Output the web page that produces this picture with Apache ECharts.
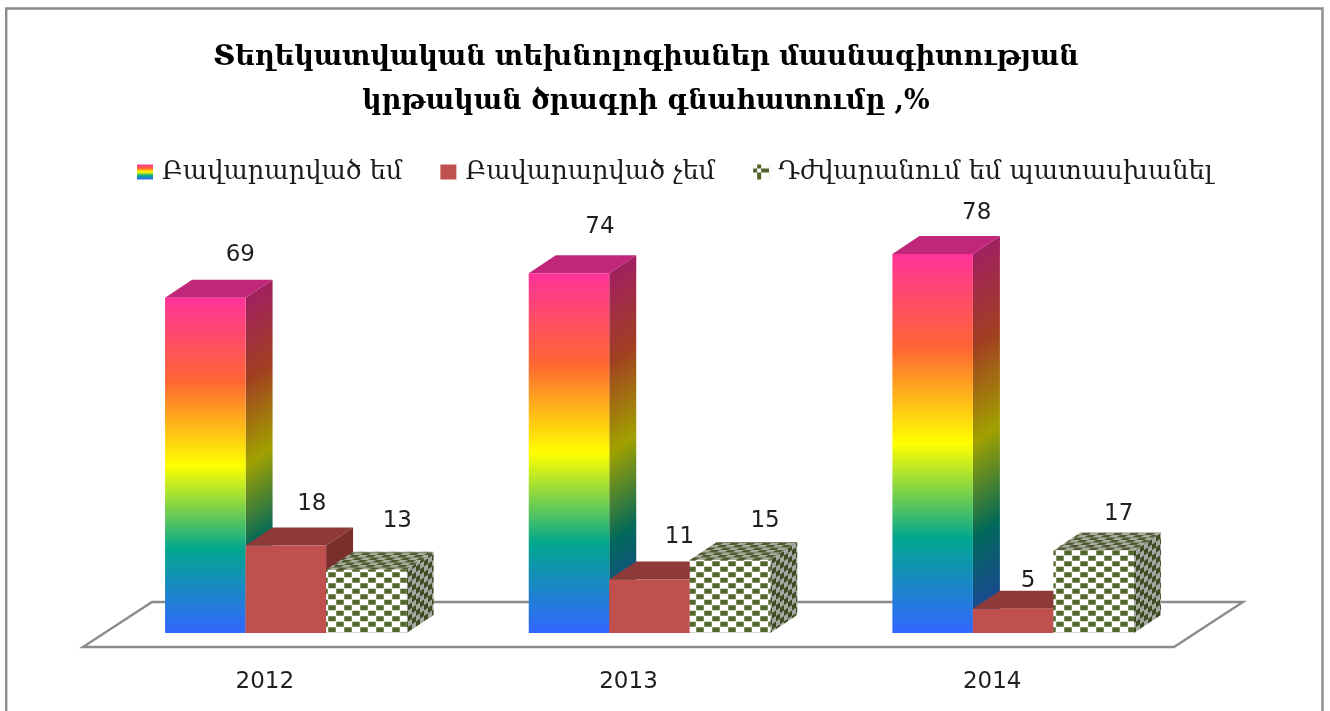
<!DOCTYPE html>
<html>
<head>
<meta charset="utf-8">
<title>chart</title>
<style>
  html, body { margin: 0; padding: 0; background: #fff; }
  #chart { width: 1330px; height: 711px; }
</style>
<script src="https://cdn.jsdelivr.net/npm/echarts@6/dist/echarts.min.js"></script>
</head>
<body>
<div id="chart"></div>
<script>
const years = ["2012", "2013", "2014"];
const satisfied = [69, 74, 78];
const notSatisfied = [18, 11, 5];
const hardToAnswer = [13, 15, 17];
const seriesNames = ["Բավարարված եմ", "Բավարարված չեմ", "Դժվարանում եմ պատասխանել"];
const titleText = "Տեղեկատվական տեխնոլոգիաներ մասնագիտության\nկրթական ծրագրի գնահատումը ,%";

// labels were placed by hand in the original: offset from the top middle of the front face
const satisfiedNudge = [[35, -43], [31, -46], [44, -41]];
const notSatisfiedNudge = [[26, -41], [30, -43], [15, -28]];
const hardToAnswerNudge = [[31, -49], [35, -39], [25, -36]];

const DEPTH_X = 27, DEPTH_Y = 18;
const SHIFT_X = 21;        // bars sit on the floor, right of the category middle
const BAR_RATIO = 0.2214;
const FONT_SERIF = "'DejaVu Serif', serif";
const FONT_SANS = "'DejaVu Sans', sans-serif";

const rainbow = [[0, 255, 51, 153], [0.25, 255, 102, 51], [0.5, 255, 255, 0], [0.75, 1, 167, 143], [1, 51, 102, 255]];
function stops(k) {
  return rainbow.map(s => ({
    offset: s[0],
    color: "rgb(" + Math.round(s[1] * k) + "," + Math.round(s[2] * k) + "," + Math.round(s[3] * k) + ")"
  }));
}
const frontRainbow = new echarts.graphic.LinearGradient(0, 0, 0, 1, stops(1));

// checker tile, sampled a few times per pixel so the edges stay soft
function tile(w, h, test, dark, light) {
  const c = document.createElement("canvas");
  c.width = w; c.height = h;
  const ctx = c.getContext("2d");
  const img = ctx.createImageData(w, h);
  const N = 4;
  for (let y = 0; y < h; y++) {
    for (let x = 0; x < w; x++) {
      let hits = 0;
      for (let a = 0; a < N; a++) {
        for (let b = 0; b < N; b++) {
          if (test(x + (a + 0.5) / N, y + (b + 0.5) / N)) hits++;
        }
      }
      const t = hits / (N * N), p = (y * w + x) * 4;
      for (let i = 0; i < 3; i++) img.data[p + i] = dark[i] * t + light[i] * (1 - t);
      img.data[p + 3] = 255;
    }
  }
  ctx.putImageData(img, 0, 0);
  return { image: c, repeat: "repeat" };
}
const odd = (a, b) => (Math.floor(a) + Math.floor(b)) % 2 !== 0;
const inner = (a, m) => { const f = a - Math.floor(a); return f > m && f < 1 - m; };
const checkFront = tile(16, 11, (x, y) => odd(x / 8, y / 5.5) && inner(x / 8, 0.03) && inner(y / 5.5, 0.05), [84, 104, 44], [255, 255, 255]);
const checkTop = tile(16, 10, (x, y) => odd((x + 1.6 * y) / 8, y / 2.5), [79, 90, 50], [168, 172, 155]);
const checkSide = tile(16, 11, (x, y) => odd(x / 4, (y + 0.6875 * x) / 5.5), [62, 76, 36], [165, 168, 160]);
const checkLegend = tile(12, 12, (x, y) => odd(x / 4, y / 4), [79, 98, 40], [255, 255, 255]);

const faces = [
  { front: frontRainbow, top: "#c0277a", side: null },
  { front: "#c0504d", top: "#8e3a38", side: "#7a2f2d" },
  { front: checkFront, top: checkTop, side: checkSide }
];

function barRender(seriesIdx, nudge) {
  return function (params, api) {
    const i = api.value(0), v = api.value(1);
    const base = api.coord([i, 0]);
    const tip = api.coord([i, v]);
    const w = api.size([1, 0])[0] * BAR_RATIO;
    const x0 = base[0] + SHIFT_X + (seriesIdx - 1.5) * w;
    const x1 = x0 + w, yT = tip[1], yB = base[1];
    const dx = DEPTH_X, dy = DEPTH_Y;
    const face = faces[seriesIdx];

    let sideFill = face.side;
    if (!sideFill) {
      // rainbow colour lines run along the depth direction on the side wall
      const h = yB - yT, len = Math.sqrt(dx * dx + dy * dy), k = h * dx / (len * len);
      sideFill = new echarts.graphic.LinearGradient(x1, yT, x1 + dy * k, yT + dx * k, stops(0.63), true);
    }
    return {
      type: "group",
      children: [
        { type: "polygon", shape: { points: [[x1, yT], [x1 + dx, yT - dy], [x1 + dx, yB - dy], [x1, yB]] }, style: { fill: sideFill } },
        { type: "polygon", shape: { points: [[x0, yT], [x0 + dx, yT - dy], [x1 + dx, yT - dy], [x1, yT]] }, style: { fill: face.top } },
        { type: "rect", shape: { x: x0, y: yT, width: w, height: yB - yT }, style: { fill: face.front } },
        {
          type: "text", z2: 100,
          style: {
            text: String(v),
            x: (x0 + x1) / 2 + nudge[i][0], y: yT + nudge[i][1],
            align: "center", verticalAlign: "middle",
            font: "23px " + FONT_SANS, fill: "#1f1f1f"
          }
        }
      ]
    };
  };
}

function floorRender(params, api) {
  const g = params.coordSys;
  const front = g.y + g.height + 14, back = g.y + g.height - 31, left = g.x, right = g.x + g.width;
  return {
    type: "polygon",
    shape: { points: [[left, front], [right, front], [right + 69, back], [left + 69, back]] },
    style: { fill: "#fff", stroke: "#8c8c8c", lineWidth: 2.4 }
  };
}

function barSeries(idx, values, nudge, legendColor) {
  return {
    name: seriesNames[idx],
    type: "custom",
    clip: false,
    z: 3 + idx,
    encode: { x: 0, y: 1 },
    itemStyle: { color: legendColor },
    renderItem: barRender(idx, nudge),
    data: values.map((v, i) => [i, v])
  };
}

const myChart = echarts.init(document.getElementById("chart"));
myChart.setOption({
  animation: false,
  backgroundColor: "#fff",
  graphic: [{
    type: "rect", silent: true, z: 0,
    shape: { x: 6.2, y: 8.5, width: 1316.3, height: 740 },
    style: { fill: "none", stroke: "#8c8c8c", lineWidth: 2.4 }
  }],
  title: {
    text: titleText,
    left: 641, top: 31, textAlign: "center",
    textStyle: { fontFamily: FONT_SERIF, fontWeight: "bold", fontSize: 27, lineHeight: 44, color: "#000" }
  },
  legend: {
    left: 132, top: 154,
    itemWidth: 16, itemHeight: 15, itemGap: 38,
    icon: "rect",
    textStyle: { fontFamily: FONT_SERIF, fontSize: 25.7, color: "#1a1a1a", padding: [0, 0, 0, 4] },
    data: [
      { name: seriesNames[0], itemStyle: { color: frontRainbow } },
      { name: seriesNames[1], itemStyle: { color: "#c0504d" } },
      { name: seriesNames[2], itemStyle: { color: checkLegend } }
    ]
  },
  grid: { left: 83, width: 1091, top: 147, height: 486 },
  xAxis: {
    type: "category",
    data: years,
    axisLine: { show: false },
    axisTick: { show: false },
    axisLabel: { margin: 38, fontFamily: FONT_SANS, fontSize: 23, color: "#1f1f1f" }
  },
  yAxis: { type: "value", min: 0, max: 100, show: false },
  series: [
    { type: "custom", silent: true, clip: false, z: 1, renderItem: floorRender, encode: { x: 0, y: 1 }, data: [[0, 0]] },
    barSeries(0, satisfied, satisfiedNudge, frontRainbow),
    barSeries(1, notSatisfied, notSatisfiedNudge, "#c0504d"),
    barSeries(2, hardToAnswer, hardToAnswerNudge, checkFront)
  ]
});
window.addEventListener("resize", function () {
  myChart.resize();
});
</script>
</body>
</html>
